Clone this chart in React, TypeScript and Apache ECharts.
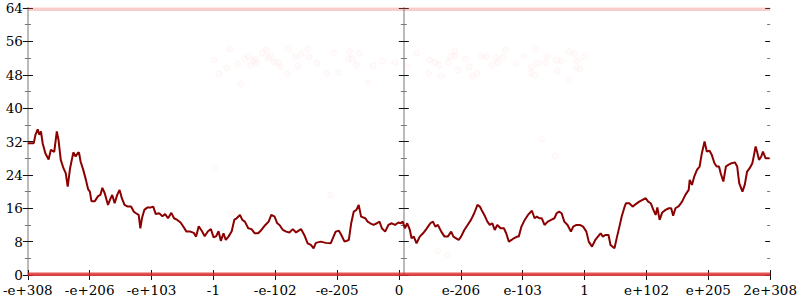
import React, { useEffect, useRef } from "react";
import * as echarts from "echarts";

// x positions are along the axis (0 .. 750, one tick every 62.5)
const tickLabels = ["-e+308", "-e+206", "-e+103", "-1", "-e-102", "-e-205", "0", "e-206", "e-103", "1", "e+102", "e+205", "2e+308"];
const yTicks = [0, 8, 16, 24, 32, 40, 48, 56, 64];

const lineX = [
  0, 6, 7.7, 10, 11.7, 13.3, 15, 17.7, 21, 23.3, 26.7, 29.3, 31, 33.3, 36, 38.3, 40.3, 42.7, 46, 48.3,
  50.3, 51.7, 53.3, 56, 58.7, 61, 62.7, 64.3, 67.7, 71, 73.3, 75.3, 77.7, 81, 83.3, 85.3, 87.7, 90.3, 92.7, 95,
  97.7, 101, 104.3, 107, 109.3, 112, 113.7, 115.3, 117.7, 121, 124.3, 126.7, 129.3, 132.7, 136, 138.7, 141.7, 145, 147.7, 151,
  154.3, 157.7, 160.3, 164.3, 167.7, 170, 172.7, 176, 178.7, 182, 185, 187.7, 190.3, 192.7, 195, 197.7, 200, 202.7, 206, 208.7,
  211, 214.3, 216.7, 219.3, 222.7, 226, 229.3, 232.7, 236, 240, 243.3, 246, 249.3, 252, 254.3, 257.7, 261, 264.3, 267.7, 271,
  276, 279.3, 282.7, 286, 288.7, 291, 296, 301, 306, 311, 314.3, 316.7, 320, 324.3, 326.7, 329.3, 332, 334.3, 336.7, 341,
  343.3, 346, 349.3, 352.7, 355.3, 357.7, 361, 364.3, 367.7, 371, 374.3, 376.7, 378.7, 381, 383.3, 386, 387.7, 390, 392.7, 396,
  399.3, 402, 404.3, 406.7, 409.3, 411.7, 414.3, 417.7, 421, 424.3, 427.7, 430, 432.7, 435.3, 437.7, 441, 444.3, 447.7, 451, 454.3,
  456.7, 459.3, 462, 464.3, 466.7, 469.3, 471.7, 474.3, 477.7, 481, 483.3, 486, 488.7, 491, 494.3, 496, 498.7, 502, 505.3, 509.3,
  512, 514.3, 516.7, 519.3, 522, 525.3, 528.7, 532, 534.3, 536.7, 539.3, 542, 545.3, 548.7, 551, 554.3, 557.7, 561, 564.3, 566.7,
  570, 573.3, 576, 578.7, 581, 583.3, 586.7, 588.7, 592.7, 595.3, 597.7, 600, 602.7, 604.3, 607.7, 611, 614.3, 617.7, 621, 624.3,
  626.7, 629.3, 632, 634.3, 636, 638.3, 641, 644.3, 647.7, 650, 652, 654.3, 657.7, 661, 664.3, 667.7, 668.7, 671, 673.3, 676,
  678.7, 681, 683.7, 686, 688.7, 691, 693.7, 696, 698.3, 700, 702.7, 705.3, 707.7, 711, 714.3, 716.7, 718.7, 722, 724.3, 726.7,
  729.3, 732, 733.7, 735.3, 736.7, 738.7, 741, 742.7, 745.3, 749.3, 750
];
const lineY = [
  31.6, 31.6, 33.6, 34.9, 33.6, 34.4, 31.6, 29.2, 27.7, 30, 29.5, 34.4, 32.4, 27.6, 25.6, 24.4, 21.2, 25.6, 29.4, 28.4,
  29.2, 29.4, 27.2, 25.2, 22.8, 20.5, 20.0, 17.7, 17.7, 18.9, 19.2, 20.9, 19.6, 16.8, 18.2, 19.2, 17.2, 19.2, 20.4, 18.4,
  16.8, 16.4, 16.4, 15.2, 14.8, 14.4, 11.2, 13.6, 15.6, 16.2, 16.2, 16.4, 14.6, 14.8, 14.1, 14.6, 13.6, 14.9, 13.6, 13.2,
  12.6, 11.4, 10.4, 10.4, 10.1, 9.2, 11.7, 10.5, 9.3, 10.5, 11.0, 9.0, 9.3, 10.5, 8.2, 10.0, 8.4, 9.2, 10.5, 13.3,
  13.6, 14.4, 13.2, 12.8, 11.2, 11.0, 10.0, 10.0, 10.8, 12.0, 12.8, 14.4, 14.0, 12.4, 12.0, 10.8, 10.4, 10.2, 11.0, 10.2,
  11.0, 9.6, 7.6, 7.2, 6.4, 7.7, 8.0, 7.7, 7.6, 10.4, 10.6, 9.6, 8.0, 8.4, 12.4, 15.2, 15.6, 16.8, 14.0, 13.6,
  12.8, 12.4, 12.0, 12.4, 12.8, 11.2, 10.4, 12.0, 12.4, 12.0, 12.6, 12.4, 12.8, 11.2, 12.4, 10.8, 8.8, 9.2, 7.6, 9.2,
  10.0, 10.8, 11.6, 12.4, 12.8, 11.6, 12.0, 10.4, 9.2, 9.2, 10.4, 9.2, 8.8, 8.4, 9.2, 10.8, 12.0, 13.2, 14.8, 16.8,
  16.4, 15.2, 14.0, 12.8, 12.0, 12.4, 10.8, 12.0, 11.2, 11.2, 10.0, 8.0, 8.4, 8.8, 9.2, 9.2, 11.6, 13.2, 14.4, 15.4,
  13.6, 14.0, 13.6, 13.6, 12.0, 12.8, 13.2, 13.6, 14.8, 15.2, 14.8, 12.8, 12.0, 10.4, 11.6, 12.0, 12.0, 11.6, 10.4, 8.0,
  6.8, 8.4, 9.2, 10.0, 9.2, 9.6, 9.6, 7.2, 6.4, 9.2, 11.6, 14.0, 16.2, 17.2, 17.2, 16.4, 17.0, 17.6, 18.0, 18.4,
  17.6, 17.2, 15.6, 14.4, 16.2, 13.2, 15.0, 15.6, 16.0, 16.0, 14.2, 16.0, 16.5, 17.6, 19.2, 20.4, 22.8, 21.6, 23.6, 25.2,
  26.0, 29.2, 32.0, 29.6, 29.8, 28.8, 26.8, 26.0, 26.0, 24.4, 22.4, 26.0, 26.4, 26.8, 27.0, 26.0, 22.0, 20.0, 21.6, 24.8,
  25.6, 26.8, 28.8, 30.8, 29.6, 27.6, 28.4, 29.6, 28.0, 28.0, 28.0
];

// faint sample dots
const dotX = [
  204, 188, 193, 201, 212, 215, 219, 223, 225, 228, 230, 231, 237, 241, 243, 245, 249, 253, 255, 262,
  263, 270, 273, 276, 283, 284, 292, 302, 309, 314, 324, 325, 328, 332, 335, 344, 349, 358, 371,
  393, 384, 406, 411, 405, 416, 418, 425, 427, 431, 432, 435, 442, 446, 449, 454, 458, 463, 469, 473,
  475, 480, 483, 493, 501, 508, 509, 513, 512, 515, 523, 525, 534, 535, 539, 547, 547, 552, 555, 554, 558, 562,
  189, 206, 306, 414, 424, 519, 533, 564
];
const dotY = [
  54.2, 51.5, 48.2, 49.6, 50.6, 45.8, 51.8, 52.5, 50.3, 51.3, 51.8, 50.8, 53.2, 53.9, 52, 52.5, 51, 51, 49.9, 48.2,
  54.2, 52.3, 50.1, 53, 54.2, 52.3, 50.8, 48.4, 53.2, 48.6, 51.8, 53.5, 51.8, 50.3, 53.2, 46, 50.1, 51.3, 51,
  53.2, 49.9, 51.5, 51, 48.4, 50.3, 47.7, 51, 52.5, 53.7, 52.5, 49.1, 51.8, 49.9, 47.7, 48.4, 52.5, 52.3, 50.3, 52,
  51, 52.3, 53.9, 50.6, 52.5, 48.4, 49.9, 54.2, 47.9, 50.8, 51, 52.5, 51.5, 48.9, 51.3, 46.8, 53.5, 53, 51.3, 49.6, 49.4, 52.3,
  25.6, 14.9, 19.2, 5.8, 4.8, 32.6, 28.5, 7.2
];

// dense sample bands at the extremes
const bandBottomY = [0.15, 0.15];
const bandTopY = [63.7, 63.7];
const bandX = [0, 750];

const FONT = "'DejaVu Serif', serif";

function vAxis(extra: any) {
  return {
    type: "value",
    min: 0,
    max: 64,
    interval: 8,
    splitLine: { show: false },
    axisLine: { show: false },
    axisLabel: { show: false },
    axisTick: { show: true, length: 5, lineStyle: { color: "#111", width: 1 } },
    minorTick: { show: true, splitNumber: 2, length: 3, lineStyle: { color: "#777", width: 1 } },
    ...extra,
  };
}

export default function App() {
  const ref = useRef<HTMLDivElement>(null);
  useEffect(() => {
    document.body.style.margin = "0";
    const chart = echarts.init(ref.current!, undefined, { renderer: "svg" });
    const step = 750 / (tickLabels.length - 1);
    const xBase = {
      type: "value",
      min: 0,
      max: 750,
      interval: step,
      splitLine: { show: false },
    };
    chart.setOption({
      animation: false,
      backgroundColor: "#fff",
      grid: { left: 24, right: 26, top: 8, bottom: 25, containLabel: false },
      xAxis: [
        {
          ...xBase,
          position: "bottom",
          axisLine: { show: true, lineStyle: { color: "#999", width: 1 } },
          axisTick: { show: true, inside: false, length: 5, lineStyle: { color: "#111" } },
          axisLabel: {
            show: true,
            margin: 8,
            fontFamily: FONT,
            fontSize: 13.5,
            color: "#000",
            formatter: (v: number) => tickLabels[Math.round(v / step)] ?? "",
          },
        },
        {
          ...xBase,
          position: "bottom",
          axisLine: { show: false },
          axisTick: { show: true, inside: true, length: 5, lineStyle: { color: "#111" } },
          axisLabel: { show: false },
        },
        {
          ...xBase,
          position: "top",
          axisLine: { show: true, lineStyle: { color: "#999", width: 1.5 } },
          axisTick: { show: false },
          axisLabel: { show: false },
        },
      ],
      yAxis: [
        vAxis({
          position: "left",
          axisLine: { show: true, lineStyle: { color: "#bbb", width: 2 } },
          axisTick: { show: true, inside: false, length: 5, lineStyle: { color: "#111" } },
          axisLabel: {
            show: true,
            margin: 5,
            fontFamily: FONT,
            fontSize: 13.5,
            color: "#000",
            formatter: (v: number) => (yTicks.includes(v) ? String(v) : ""),
          },
        }),
        vAxis({ position: "left", axisTick: { show: true, inside: true, length: 5, lineStyle: { color: "#111" } } }),
        vAxis({
          position: "right",
          axisLine: { show: true, lineStyle: { color: "#bbb", width: 2 } },
          axisTick: { show: true, inside: false, length: 5, lineStyle: { color: "#111" } },
        }),
        vAxis({ position: "right", axisTick: { show: true, inside: true, length: 5, lineStyle: { color: "#111" } } }),
        vAxis({
          position: "left",
          offset: -376,
          axisLine: { show: true, lineStyle: { color: "#bbb", width: 2 } },
          axisTick: { show: true, inside: false, length: 5, lineStyle: { color: "#111" } },
        }),
        vAxis({ position: "left", offset: -376, axisTick: { show: true, inside: true, length: 5, lineStyle: { color: "#111" } } }),
      ],
      series: [
        {
          type: "line",
          data: bandX.map((x, i) => [x, bandTopY[i]]),
          symbol: "none",
          clip: false,
          lineStyle: { color: "rgba(240,90,90,0.3)", width: 3.5 },
          silent: true,
        },
        {
          type: "line",
          data: bandX.map((x, i) => [x, bandBottomY[i]]),
          symbol: "none",
          clip: false,
          lineStyle: { color: "rgba(226,40,40,0.8)", width: 3.5 },
          silent: true,
        },
        {
          type: "scatter",
          data: dotX.map((x, i) => [x, dotY[i]]),
          symbol: "circle",
          symbolSize: 6,
          itemStyle: { color: "rgba(255,240,240,0.35)", borderColor: "rgba(255,160,160,0.12)", borderWidth: 1 },
          silent: true,
        },
        {
          type: "line",
          data: lineX.map((x, i) => [x, lineY[i]]),
          symbol: "none",
          clip: false,
          lineStyle: { color: "#8b0000", width: 2 },
          silent: true,
        },
      ],
    });
    return () => chart.dispose();
  }, []);
  return <div ref={ref} style={{ position: "absolute", left: 0, top: 0, width: 800, height: 300 }} />;
}
